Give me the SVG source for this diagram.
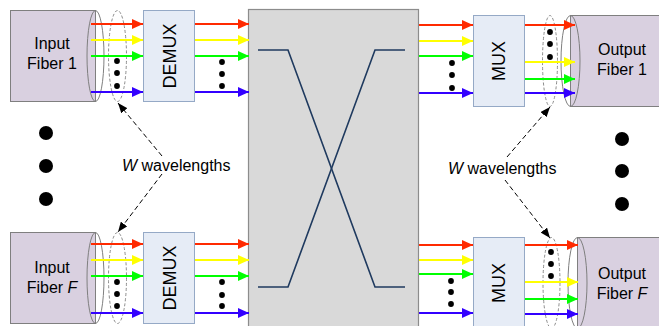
<svg xmlns="http://www.w3.org/2000/svg" width="659" height="326" viewBox="0 0 659 326">
<defs>
<style>
.fiber{fill:#D9D0E0;stroke:#7F7F7F;stroke-width:1}
.rim{fill:none;stroke:#7F7F7F;stroke-width:1}
.bundle{fill:none;stroke:#8C8C8C;stroke-width:1;stroke-dasharray:3,2}
.box{fill:#E6ECF6;stroke:#95A9C6;stroke-width:1}
.sw{fill:#D9D9D9;stroke:#8C8C8C;stroke-width:1.2}
.path{fill:none;stroke:#1F3A5F;stroke-width:1.6}
.t{font-family:"Liberation Sans",Arial,sans-serif;font-size:16px;fill:#000}
.lbl{font-family:"Liberation Sans",Arial,sans-serif;font-size:18px;fill:#000}
.r{stroke:#FF2A00;stroke-width:2;fill:none;marker-end:url(#mr)}
.y{stroke:#FFFF00;stroke-width:2;fill:none;marker-end:url(#my)}
.g{stroke:#00FF00;stroke-width:2;fill:none;marker-end:url(#mg)}
.b{stroke:#3300FF;stroke-width:2;fill:none;marker-end:url(#mb)}
.dash{stroke:#000;stroke-width:1;fill:none;stroke-dasharray:5,3;marker-end:url(#mk)}
.dot{fill:#000}
</style>
<marker id="mr" markerUnits="userSpaceOnUse" markerWidth="11" markerHeight="10" refX="11" refY="5" orient="auto"><path d="M0,0 L11,5 L0,10 z" fill="#FF2A00"/></marker>
<marker id="my" markerUnits="userSpaceOnUse" markerWidth="11" markerHeight="10" refX="11" refY="5" orient="auto"><path d="M0,0 L11,5 L0,10 z" fill="#FFFF00"/></marker>
<marker id="mg" markerUnits="userSpaceOnUse" markerWidth="11" markerHeight="10" refX="11" refY="5" orient="auto"><path d="M0,0 L11,5 L0,10 z" fill="#00FF00"/></marker>
<marker id="mb" markerUnits="userSpaceOnUse" markerWidth="11" markerHeight="10" refX="11" refY="5" orient="auto"><path d="M0,0 L11,5 L0,10 z" fill="#3300FF"/></marker>
<marker id="mk" markerUnits="userSpaceOnUse" markerWidth="10" markerHeight="8" refX="10" refY="4" orient="auto"><path d="M0,0 L10,4 L0,8 z" fill="#000"/></marker>
</defs>
<rect width="659" height="326" fill="#fff"/>

<g id="switch">
<rect class="sw" x="248.5" y="9.5" width="170" height="320"/>
<path class="path" d="M258,50 L288,50 L375,287 L405,287"/>
<path class="path" d="M258,287 L288,287 L375,50 L405,50"/>
</g>

<g id="input-fiber-1">
<rect class="fiber" x="10.5" y="10.5" width="85" height="91"/>
<ellipse class="rim" cx="95.5" cy="56" rx="8.5" ry="45.5"/>
<text class="t" x="52" y="49" text-anchor="middle">Input</text>
<text class="t" x="52" y="69" text-anchor="middle">Fiber 1</text>
</g>
<g id="input-fiber-F">
<rect class="fiber" x="10.5" y="232.5" width="85" height="91"/>
<ellipse class="rim" cx="95.5" cy="278" rx="8.5" ry="45.5"/>
<text class="t" x="52" y="273" text-anchor="middle">Input</text>
<text class="t" x="52" y="293" text-anchor="middle">Fiber <tspan font-style="italic">F</tspan></text>
</g>
<g id="output-fiber-1">
<rect class="fiber" x="570.5" y="15.5" width="95" height="91"/>
<ellipse class="rim" cx="570.5" cy="61" rx="9.5" ry="45.5"/>
<text class="t" x="622" y="55" text-anchor="middle">Output</text>
<text class="t" x="622" y="75" text-anchor="middle">Fiber 1</text>
</g>
<g id="output-fiber-F">
<rect class="fiber" x="577.5" y="237.5" width="90" height="91"/>
<ellipse class="rim" cx="577.5" cy="283" rx="9.5" ry="45.5"/>
<text class="t" x="622" y="279" text-anchor="middle">Output</text>
<text class="t" x="622" y="299" text-anchor="middle">Fiber <tspan font-style="italic">F</tspan></text>
</g>

<g id="demux-1">
<rect class="box" x="143.5" y="10.5" width="51" height="91"/>
<text class="lbl" transform="translate(175.5,56) rotate(-90)" text-anchor="middle">DEMUX</text>
</g>
<g id="demux-F">
<rect class="box" x="143.5" y="232.5" width="51" height="91"/>
<text class="lbl" transform="translate(175.5,278) rotate(-90)" text-anchor="middle">DEMUX</text>
</g>
<g id="mux-1">
<rect class="box" x="473.5" y="15.5" width="51" height="91"/>
<text class="lbl" transform="translate(504.5,61) rotate(-90)" text-anchor="middle">MUX</text>
</g>
<g id="mux-F">
<rect class="box" x="473.5" y="237.5" width="51" height="92"/>
<text class="lbl" transform="translate(504.5,283) rotate(-90)" text-anchor="middle">MUX</text>
</g>

<g id="bundles">
<ellipse class="bundle" cx="117.5" cy="56" rx="9" ry="45.5"/>
<ellipse class="bundle" cx="117.5" cy="278" rx="9" ry="45.5"/>
<ellipse class="bundle" cx="550" cy="61" rx="7.5" ry="45.5"/>
<ellipse class="bundle" cx="551.5" cy="283" rx="8.5" ry="45.5"/>
</g>

<g id="connectors">
<line class="r" x1="91" y1="24" x2="143" y2="24"/>
<line class="y" x1="91" y1="40" x2="143" y2="40"/>
<line class="g" x1="91" y1="56" x2="143" y2="56"/>
<line class="b" x1="91" y1="92" x2="143" y2="92"/>
<line class="r" x1="195" y1="24" x2="249" y2="24"/>
<line class="y" x1="195" y1="40" x2="249" y2="40"/>
<line class="g" x1="195" y1="56" x2="249" y2="56"/>
<line class="b" x1="195" y1="92" x2="249" y2="92"/>

<line class="r" x1="91" y1="244" x2="143" y2="244"/>
<line class="y" x1="91" y1="260" x2="143" y2="260"/>
<line class="g" x1="91" y1="276" x2="143" y2="276"/>
<line class="b" x1="91" y1="313" x2="143" y2="313"/>
<line class="r" x1="195" y1="244" x2="249" y2="244"/>
<line class="y" x1="195" y1="260" x2="249" y2="260"/>
<line class="g" x1="195" y1="276" x2="249" y2="276"/>
<line class="b" x1="195" y1="313" x2="249" y2="313"/>

<line class="r" x1="419" y1="25" x2="473" y2="25"/>
<line class="y" x1="419" y1="41" x2="473" y2="41"/>
<line class="g" x1="419" y1="56" x2="473" y2="56"/>
<line class="b" x1="419" y1="93" x2="473" y2="93"/>
<line class="r" x1="525" y1="25" x2="575" y2="25"/>
<line class="y" x1="525" y1="62" x2="575" y2="62"/>
<line class="g" x1="525" y1="79" x2="575" y2="79"/>
<line class="b" x1="525" y1="93" x2="575" y2="93"/>

<line class="r" x1="419" y1="245" x2="473" y2="245"/>
<line class="y" x1="419" y1="260" x2="473" y2="260"/>
<line class="g" x1="419" y1="274" x2="473" y2="274"/>
<line class="b" x1="419" y1="313" x2="473" y2="313"/>
<line class="r" x1="525" y1="245" x2="578" y2="245"/>
<line class="y" x1="525" y1="282" x2="578" y2="282"/>
<line class="g" x1="525" y1="299" x2="578" y2="299"/>
<line class="b" x1="525" y1="314" x2="578" y2="314"/>

<line class="dash" x1="162" y1="156" x2="118" y2="103"/>
<line class="dash" x1="162" y1="174" x2="118" y2="232"/>
<line class="dash" x1="507" y1="157" x2="550" y2="107"/>
<line class="dash" x1="505" y1="180" x2="550" y2="238"/>
</g>

<g id="labels">
<text class="t" x="122" y="171"><tspan font-style="italic">W</tspan> wavelengths</text>
<text class="t" x="448" y="174"><tspan font-style="italic">W</tspan> wavelengths</text>
</g>

<g id="dots">
<circle class="dot" cx="117" cy="61" r="2.9"/><circle class="dot" cx="117" cy="73" r="2.9"/><circle class="dot" cx="117" cy="86" r="2.9"/>
<circle class="dot" cx="222" cy="62" r="2.9"/><circle class="dot" cx="222" cy="74" r="2.9"/><circle class="dot" cx="222" cy="86" r="2.9"/>
<circle class="dot" cx="452" cy="63" r="2.9"/><circle class="dot" cx="452" cy="75" r="2.9"/><circle class="dot" cx="452" cy="88" r="2.9"/>
<circle class="dot" cx="550" cy="32" r="2.9"/><circle class="dot" cx="550" cy="44" r="2.9"/><circle class="dot" cx="550" cy="57" r="2.9"/>
<circle class="dot" cx="117" cy="282" r="2.9"/><circle class="dot" cx="117" cy="294" r="2.9"/><circle class="dot" cx="117" cy="306" r="2.9"/>
<circle class="dot" cx="222" cy="282" r="2.9"/><circle class="dot" cx="222" cy="295" r="2.9"/><circle class="dot" cx="222" cy="306" r="2.9"/>
<circle class="dot" cx="451" cy="281" r="2.9"/><circle class="dot" cx="451" cy="292" r="2.9"/><circle class="dot" cx="451" cy="304" r="2.9"/>
<circle class="dot" cx="551" cy="252" r="2.9"/><circle class="dot" cx="551" cy="264" r="2.9"/><circle class="dot" cx="551" cy="276" r="2.9"/>
<circle class="dot" cx="46" cy="133" r="7"/><circle class="dot" cx="46" cy="166" r="7"/><circle class="dot" cx="46" cy="199" r="7"/>
<circle class="dot" cx="622" cy="139" r="7"/><circle class="dot" cx="622" cy="171" r="7"/><circle class="dot" cx="622" cy="204" r="7"/>
</g>
</svg>
